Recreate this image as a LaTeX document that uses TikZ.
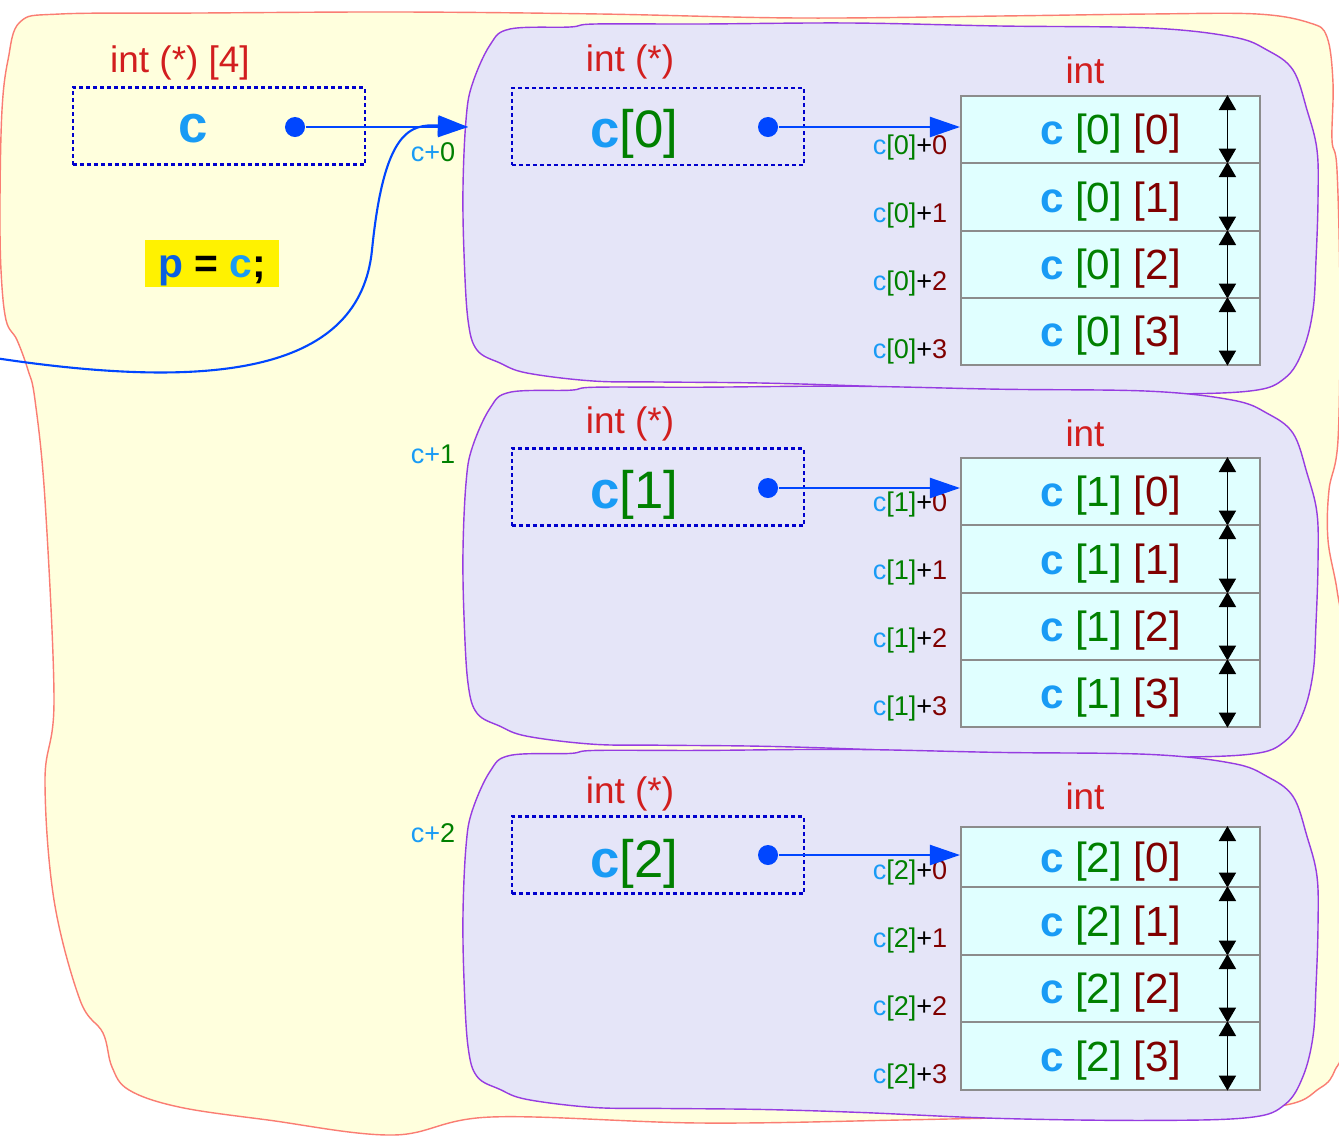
\documentclass[tikz,border=0pt]{standalone}
\usepackage{fontspec}
\setmainfont{Liberation Sans}
\usetikzlibrary{arrows.meta, positioning, calc}

\definecolor{bgyellow}{RGB}{255,255,221}
\definecolor{bgedge}{RGB}{250,125,115}
\definecolor{blobfill}{RGB}{229,229,248}
\definecolor{blobedge}{RGB}{150,60,225}
\definecolor{cellfill}{RGB}{224,255,255}
\definecolor{typered}{RGB}{210,30,30}
\definecolor{namblue}{RGB}{25,155,245}
\definecolor{idxgreen}{RGB}{0,128,0}
\definecolor{idxred}{RGB}{128,0,0}
\definecolor{ptrblue}{RGB}{0,70,255}
\definecolor{boxblue}{RGB}{0,0,205}
\definecolor{pblue}{RGB}{10,95,225}

\newcommand{\nmc}{\textbf{\textcolor{namblue}{c}}}
\newcommand{\elem}[2]{\nmc\ \textcolor{idxgreen}{[#1]} \textcolor{idxred}{[#2]}}
\newcommand{\offs}[2]{\textcolor{namblue}{c}\textcolor{idxgreen}{[#1]}+\textcolor{idxred}{#2}}

\begin{document}
\begin{tikzpicture}[
    x=0.01cm, y=-0.01cm,
    typelabel/.style={text=typered, font=\fontsize{10.5pt}{12pt}\selectfont, anchor=base},
    ptrbox/.style={draw=boxblue, line width=0.6pt, dash pattern=on 0.04cm off 0.03cm, minimum width=2.92cm, minimum height=0.77cm, inner sep=0pt},
    ptrname/.style={font=\fontsize{15pt}{18pt}\selectfont, anchor=base},
    ptrdot/.style={circle, fill=ptrblue, minimum size=0.2cm, inner sep=0pt},
    ptr/.style={-{Triangle[length=0.3cm, width=0.2cm]}, color=ptrblue, line width=0.6pt},
    memcell/.style={draw=gray!90, line width=0.45pt, fill=cellfill, minimum width=2.99cm, anchor=north west, inner sep=0pt, text depth=0pt, font=\fontsize{12pt}{14pt}\selectfont},
    dimarrow/.style={{Triangle[length=0.15cm, width=0.17cm]}-{Triangle[length=0.15cm, width=0.17cm]}, line width=0.5pt},
    offlabel/.style={font=\fontsize{7.7pt}{9pt}\selectfont, anchor=base east, inner sep=0pt},
    blob/.style={draw=blobedge, fill=blobfill, line width=0.4pt}
]
    \useasboundingbox (0,0) rectangle (1339,1136);
    \clip (0,0) rectangle (1339,1136);
    \fill[white] (0,0) rectangle (1339,1136);

    % Outer region
    \draw[fill=bgyellow, draw=bgedge, line width=0.4pt] plot[smooth cycle, tension=0.6] coordinates {
        (20,22) (60,14) (200,13) (400,12) (600,14) (800,18) (1000,16) (1150,14) (1257,14)
        (1310,23) (1327,37) (1333,83) (1332,140) (1337,170) (1340,300) (1338,440) (1329,490)
        (1328,540) (1337,590) (1342,640) (1340,790) (1342,900) (1342,1040) (1335,1070)
        (1320,1088) (1273,1107) (1100,1115) (900,1120) (700,1123) (491,1117) (393,1135)
        (268,1120) (179,1107) (129,1090) (112,1067) (103,1033) (80,1000) (54,900) (45,780)
        (54,700) (45,500) (35,400) (28,370) (17,340) (6,320) (1,270) (0,200) (2,110) (8,60)};

    % Rows of the 2D array
    \foreach \k in {0,1,2} {
        \draw[blob, yshift=-\k*3.63cm] plot[smooth cycle, tension=0.6] coordinates {
            (510,29) (570,27) (595,24) (700,24) (850,23) (1000,26) (1150,28) (1233,37)
            (1267,50) (1293,70) (1307,110) (1317,150) (1318,200) (1316,260) (1313,310)
            (1303,350) (1285,378) (1250,391) (1150,394) (1000,392) (860,386) (760,383)
            (660,382) (593,381) (527,373) (500,363) (477,350) (468,320) (464,253)
            (463,187) (466,120) (472,85) (490,45)};
    }

    % Pointer c
    \node[typelabel] (ctype) at (180,72) {int (*) [4]};
    \node[ptrbox] (cbox) at (219,126) {};
    \node[ptrname] (cname) at (193,142) {\nmc};
    \node[ptrdot] (dc) at (295,127) {};
    \coordinate (blob0in) at (468,127);
    \coordinate (pin) at (-5,358);
    \draw[ptr] (dc) -- (blob0in);
    \draw[ptr] (pin) .. controls (220,392) and (360,370) .. (372,250)
        .. controls (384,130) and (410,124) .. (blob0in);
    \node[fill=yellow, inner sep=0pt, minimum width=1.34cm, text height=0.37cm, text depth=0.10cm,
        font=\fontsize{11.6pt}{14pt}\selectfont\bfseries] (assign) at (212,263.5)
        {\textcolor{pblue}{p} = \textcolor{namblue}{c};};

    % Offsets of c
    \node[offlabel] (cp0) at (456,161) {\textcolor{namblue}{c+}\textcolor{idxgreen}{0}};
    \node[offlabel] (cp1) at (456,463) {\textcolor{namblue}{c+}\textcolor{idxgreen}{1}};
    \node[offlabel] (cp2) at (456,842) {\textcolor{namblue}{c+}\textcolor{idxgreen}{2}};

    % Row c[0]
    \node[typelabel] (p0type) at (630,71) {int (*)};
    \node[ptrbox] (p0box) at (658,126.5) {};
    \node[ptrname] (p0) at (634,147) {\nmc\textcolor{idxgreen}{[0]}};
    \node[ptrdot] (d0) at (768,127) {};
    \node[typelabel] (e0type) at (1085,83) {int};
    \foreach \j/\yt/\h/\yb in {0/95/0.67/154, 1/162/0.68/222, 2/230/0.67/290, 3/297/0.67/358} {
        \node[memcell, minimum height=\h cm] (c0\j) at (960,\yt) {\elem{0}{\j}};
        \draw[dimarrow] ([xshift=1.17cm]c0\j.north) -- ([xshift=1.17cm]c0\j.south);
        \node[offlabel] (o0\j) at (948,\yb) {\offs{0}{\j}};
    }
    \draw[ptr] (d0) -- (d0 -| c00.west);

    % Row c[1]
    \node[typelabel] (p1type) at (630,433) {int (*)};
    \node[ptrbox] (p1box) at (658,487) {};
    \node[ptrname] (p1) at (634,508) {\nmc\textcolor{idxgreen}{[1]}};
    \node[ptrdot] (d1) at (768,488) {};
    \node[typelabel] (e1type) at (1085,446) {int};
    \foreach \j/\yt/\h/\yb in {0/457/0.67/511, 1/524/0.68/579, 2/592/0.67/647, 3/659/0.67/715} {
        \node[memcell, minimum height=\h cm] (c1\j) at (960,\yt) {\elem{1}{\j}};
        \draw[dimarrow] ([xshift=1.17cm]c1\j.north) -- ([xshift=1.17cm]c1\j.south);
        \node[offlabel] (o1\j) at (948,\yb) {\offs{1}{\j}};
    }
    \draw[ptr] (d1) -- (d1 -| c10.west);

    % Row c[2]
    \node[typelabel] (p2type) at (630,803) {int (*)};
    \node[ptrbox] (p2box) at (658,855) {};
    \node[ptrname] (p2) at (634,877) {\nmc\textcolor{idxgreen}{[2]}};
    \node[ptrdot] (d2) at (768,855) {};
    \node[typelabel] (e2type) at (1085,809) {int};
    \foreach \j/\yt/\h/\yb in {0/826/0.60/879, 1/886/0.68/947, 2/954/0.67/1015, 3/1021/0.68/1083} {
        \node[memcell, minimum height=\h cm] (c2\j) at (960,\yt) {\elem{2}{\j}};
        \draw[dimarrow] ([xshift=1.17cm]c2\j.north) -- ([xshift=1.17cm]c2\j.south);
        \node[offlabel] (o2\j) at (948,\yb) {\offs{2}{\j}};
    }
    \draw[ptr] (d2) -- (d2 -| c20.west);
\end{tikzpicture}
\end{document}
